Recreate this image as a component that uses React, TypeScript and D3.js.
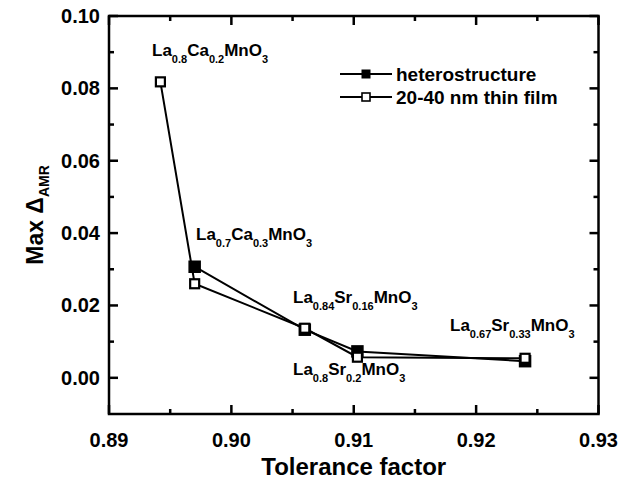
import React from "react";
import * as d3 from "d3";

const heteroX = [0.897, 0.906, 0.9103, 0.924];
const heteroY = [0.0307, 0.0133, 0.0073, 0.0046];
const filmX = [0.8942, 0.897, 0.906, 0.9103, 0.924];
const filmY = [0.0818, 0.026, 0.0137, 0.0057, 0.0054];
const xTicks = [0.89, 0.9, 0.91, 0.92, 0.93];
const xMinorTicks = [0.895, 0.905, 0.915, 0.925];
const yTicks = [0.0, 0.02, 0.04, 0.06, 0.08, 0.1];
const yMinorTicks = [0.01, 0.03, 0.05, 0.07, 0.09];
const seriesNames = ["heterostructure", "20-40 nm thin film"];
const compounds = [
  { parts: [["La", "0.8"], ["Ca", "0.2"], ["MnO", "3"]], x: 152, y: 56 },
  { parts: [["La", "0.7"], ["Ca", "0.3"], ["MnO", "3"]], x: 196, y: 240 },
  { parts: [["La", "0.84"], ["Sr", "0.16"], ["MnO", "3"]], x: 293, y: 303 },
  { parts: [["La", "0.67"], ["Sr", "0.33"], ["MnO", "3"]], x: 450, y: 331 },
  { parts: [["La", "0.8"], ["Sr", "0.2"], ["MnO", "3"]], x: 293, y: 375 },
];

const W = 621, H = 484;
const L = 109, R = 598.5, T = 16, B = 414;
const FONT = "'Liberation Sans', Arial, Helvetica, sans-serif";

export default function App() {
  const x = d3.scaleLinear().domain([0.89, 0.93]).range([L, R]);
  const y = d3.scaleLinear().domain([-0.01, 0.1]).range([B, T]);
  const line = d3.line<[number, number]>().x(d => x(d[0])).y(d => y(d[1]));
  const heteroPts = heteroX.map((v, i) => [v, heteroY[i]] as [number, number]);
  const filmPts = filmX.map((v, i) => [v, filmY[i]] as [number, number]);
  const S = 11;

  const ticks: { x1: number; y1: number; x2: number; y2: number }[] = [];
  const addX = (t: number, len: number) => {
    const px = x(t);
    ticks.push({ x1: px, y1: B, x2: px, y2: B - len });
    ticks.push({ x1: px, y1: T, x2: px, y2: T + len });
  };
  const addY = (t: number, len: number) => {
    const py = y(t);
    ticks.push({ x1: L, y1: py, x2: L + len, y2: py });
    ticks.push({ x1: R, y1: py, x2: R - len, y2: py });
  };
  xTicks.forEach(t => addX(t, 9));
  xMinorTicks.forEach(t => addX(t, 5));
  yTicks.forEach(t => addY(t, 9));
  yMinorTicks.forEach(t => addY(t, 5));

  return (
    <svg width={W} height={H} style={{ position: "absolute", left: 0, top: 0, background: "#fff" }} fontFamily={FONT}>
      <rect x={0} y={0} width={W} height={H} fill="#fff" />
      <path d={line(heteroPts) || ""} fill="none" stroke="#000" strokeWidth={2} />
      <path d={line(filmPts) || ""} fill="none" stroke="#000" strokeWidth={2} />
      {heteroPts.map((p, i) => (
        <rect key={"h" + i} x={x(p[0]) - S / 2} y={y(p[1]) - S / 2} width={S} height={S} fill="#000" stroke="#000" strokeWidth={1.5} />
      ))}
      {filmPts.map((p, i) => (
        <rect key={"f" + i} x={x(p[0]) - S / 2 + 1} y={y(p[1]) - S / 2 + 1} width={S - 2} height={S - 2} fill="#fff" stroke="#000" strokeWidth={2.2} />
      ))}
      <rect x={L} y={T} width={R - L} height={B - T} fill="none" stroke="#000" strokeWidth={2.5} />
      {ticks.map((t, i) => (
        <line key={"tk" + i} x1={t.x1} y1={t.y1} x2={t.x2} y2={t.y2} stroke="#000" strokeWidth={2.5} />
      ))}
      {xTicks.map((t, i) => (
        <text key={"xl" + i} x={x(t)} y={447} textAnchor="middle" fontSize={20} fontWeight="bold">{d3.format(".2f")(t)}</text>
      ))}
      {yTicks.map((t, i) => (
        <text key={"yl" + i} x={100} y={y(t) + 7} textAnchor="end" fontSize={20} fontWeight="bold">{d3.format(".2f")(t)}</text>
      ))}
      <text x={(L + R) / 2} y={475} textAnchor="middle" fontSize={24} fontWeight="bold">Tolerance factor</text>
      <text transform={`translate(43, 215) rotate(-90)`} textAnchor="middle" fontSize={23} fontWeight="bold">
        Max Δ<tspan fontSize={14} dy={6}>AMR</tspan>
      </text>
      {compounds.map((c, i) => (
        <text key={"c" + i} x={c.x} y={c.y} fontSize={17} fontWeight="bold">
          {c.parts.map((p, j) => (
            <React.Fragment key={j}>
              <tspan dy={j === 0 ? 0 : -7} fontSize={17}>{p[0]}</tspan>
              <tspan dy={7} fontSize={11}>{p[1]}</tspan>
            </React.Fragment>
          ))}
        </text>
      ))}
      {seriesNames.map((n, i) => {
        const ly = 74 + i * 23;
        return (
          <g key={"lg" + i}>
            <line x1={340} x2={392} y1={ly} y2={ly} stroke="#000" strokeWidth={2} />
            {i === 0 ? (
              <rect x={361.5} y={ly - 4.5} width={9} height={9} fill="#000" />
            ) : (
              <rect x={362} y={ly - 4} width={8} height={8} fill="#fff" stroke="#000" strokeWidth={1.6} />
            )}
            <text x={396} y={ly + 7} fontSize={19} fontWeight="bold">{n}</text>
          </g>
        );
      })}
    </svg>
  );
}
